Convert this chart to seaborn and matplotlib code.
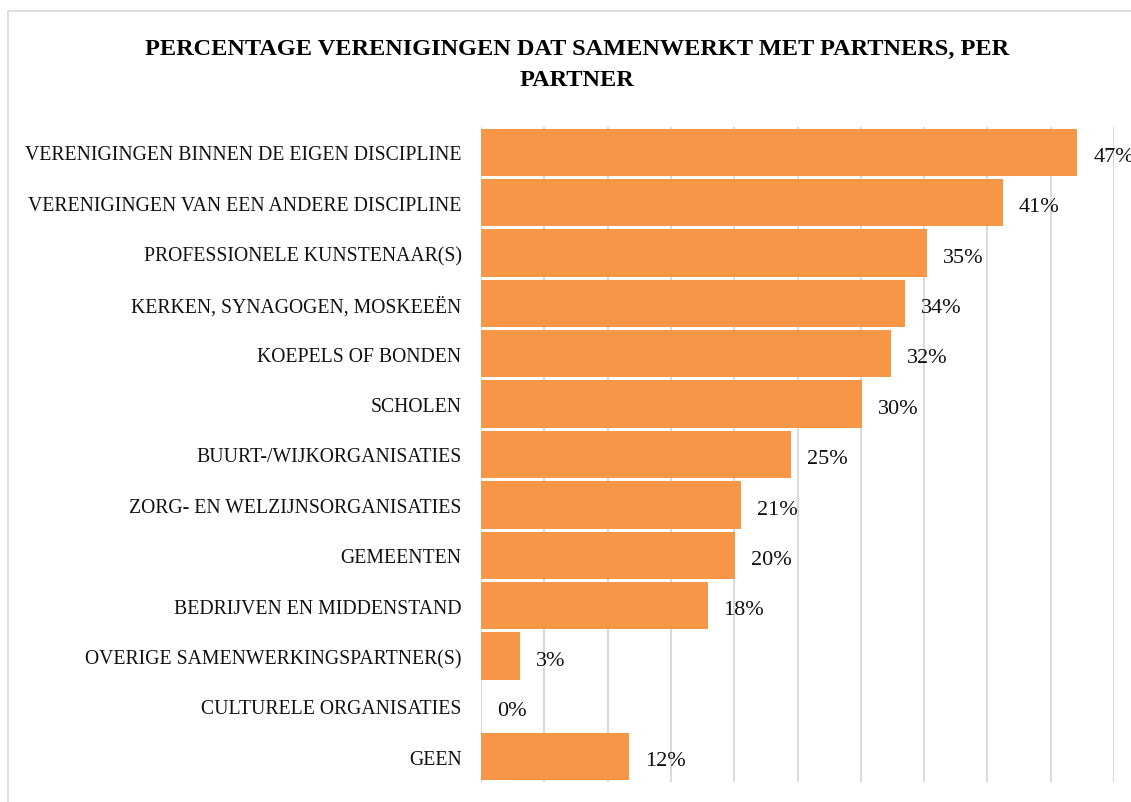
import matplotlib
matplotlib.use("Agg")
import matplotlib.pyplot as plt
import seaborn as sns
import pandas as pd
from matplotlib.patches import Rectangle

categories = [
    "VERENIGINGEN BINNEN DE EIGEN DISCIPLINE",
    "VERENIGINGEN VAN EEN ANDERE DISCIPLINE",
    "PROFESSIONELE KUNSTENAAR(S)",
    "KERKEN, SYNAGOGEN, MOSKEEËN",
    "KOEPELS OF BONDEN",
    "SCHOLEN",
    "BUURT-/WIJKORGANISATIES",
    "ZORG- EN WELZIJNSORGANISATIES",
    "GEMEENTEN",
    "BEDRIJVEN EN MIDDENSTAND",
    "OVERIGE SAMENWERKINGSPARTNER(S)",
    "CULTURELE ORGANISATIES",
    "GEEN",
]
values = [47.1, 41.2, 35.2, 33.5, 32.4, 30.1, 24.5, 20.5, 20.1, 17.9, 3.1, 0.0, 11.7]
value_labels = ["47%", "41%", "35%", "34%", "32%", "30%", "25%", "21%", "20%", "18%", "3%", "0%", "12%"]
title_text = "PERCENTAGE VERENIGINGEN DAT SAMENWERKT MET PARTNERS, PER\nPARTNER"

sns.set_theme(style="white")
plt.rcParams["font.family"] = ["Liberation Serif", "DejaVu Serif"]

W, H = 1131, 803
fig = plt.figure(figsize=(W / 100, H / 100), dpi=100)
fig.patch.set_facecolor("white")
fig.patches.append(Rectangle((8 / W, -0.1), 1.2, 1 - 12 / H + 0.1, transform=fig.transFigure,
                             fill=False, edgecolor="#D9D9D9", linewidth=1.2))

ax = fig.add_axes([481 / W, 1 - 783 / H, (1114 - 481) / W, (783 - 128) / H])
df = pd.DataFrame({"cat": categories, "val": values})
sns.barplot(data=df, x="val", y="cat", orient="h", color="#F79646", width=0.94,
            saturation=1, ax=ax, edgecolor="none")

ax.set_xlim(0, 50)
ax.set_xticks(range(0, 51, 5))
ax.xaxis.grid(True, color="#D9D9D9", linewidth=1.4)
ax.set_axisbelow(True)
ax.tick_params(axis="x", length=0, labelbottom=False)
ax.tick_params(axis="y", length=0, pad=14, labelsize=14.2, labelcolor="#111111")
ax.set_xlabel("")
ax.set_ylabel("")
for s in ax.spines.values():
    s.set_visible(False)

anns = ax.bar_label(ax.containers[0], labels=value_labels, padding=11.5, fontsize=16,
                    color="#111111", clip_on=False)
for a in anns:
    a.xyann = (11.5, -3)

fig.text(577 / W, 1 - 39 / H, title_text, ha="center", va="top", fontsize=17.5,
         fontweight="bold", linespacing=1.6, color="black")

fig.savefig("out.png", dpi=100, facecolor="white")
